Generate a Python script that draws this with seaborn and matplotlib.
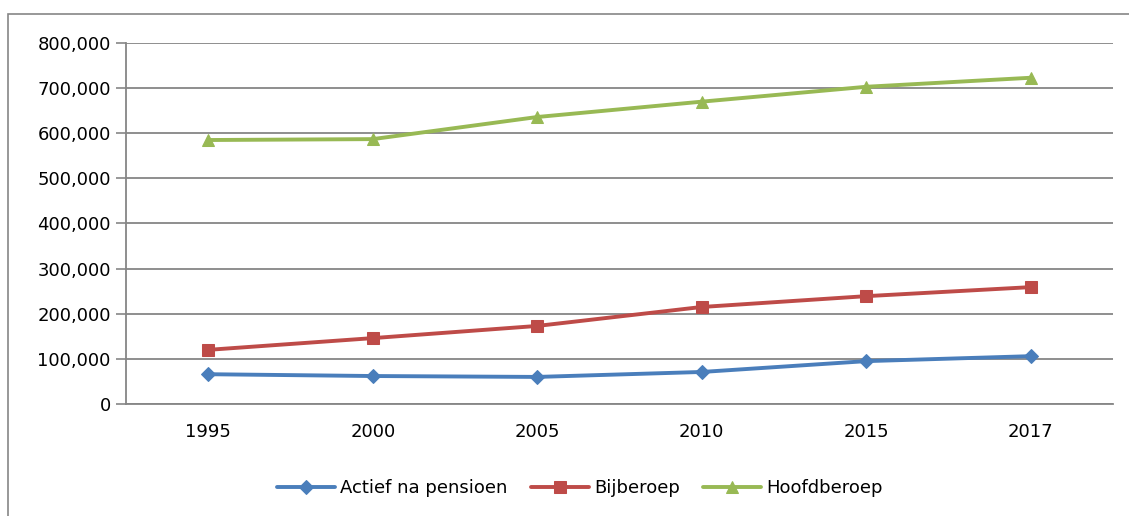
import matplotlib
matplotlib.use("Agg")
import matplotlib.pyplot as plt
import matplotlib.ticker as mticker
from matplotlib.patches import Rectangle
import seaborn as sns
import pandas as pd

years = ["1995", "2000", "2005", "2010", "2015", "2017"]
actief_na_pensioen = [66000, 62000, 60000, 71000, 95000, 106000]
bijberoep = [120000, 146000, 173000, 215000, 239000, 259000]
hoofdberoep = [585000, 587000, 636000, 670000, 703000, 723000]

series_names = ["Actief na pensioen", "Bijberoep", "Hoofdberoep"]
series_values = [actief_na_pensioen, bijberoep, hoofdberoep]
colors = ["#4A7EBB", "#BE4B48", "#98B954"]
markers = ["D", "s", "^"]
msizes = [7, 8, 8]

sns.set_theme(style="white")
plt.rcParams["font.family"] = ["DejaVu Sans"]
plt.rcParams["text.color"] = "black"

fig = plt.figure(figsize=(11.29, 5.16), dpi=100)
ax = fig.add_axes([126/1129, 1-404/516, (1113-126)/1129, (404-43)/516])

rows = []
for name, vals in zip(series_names, series_values):
    for i, v in enumerate(vals):
        rows.append({"pos": i, "value": v, "series": name})
df = pd.DataFrame(rows)

for name, c, m, ms in zip(series_names, colors, markers, msizes):
    sub = df[df["series"] == name]
    sns.lineplot(data=sub, x="pos", y="value", ax=ax, color=c, marker=m,
                 markersize=ms, markeredgecolor=c, linewidth=2.8, label=name)

ax.set_xlim(-0.5, len(years) - 0.5)
ax.set_ylim(0, 800000)
ax.yaxis.set_major_locator(mticker.MultipleLocator(100000))
ax.yaxis.set_major_formatter(mticker.FuncFormatter(lambda v, p: f"{int(v):,}"))
ax.set_xticks(range(len(years)))
ax.set_xticklabels(years)
ax.set_xticks([i - 0.5 for i in range(len(years) + 1)], minor=True)
ax.tick_params(axis="x", which="major", length=0, pad=14, labelsize=13, labelcolor="black")
ax.tick_params(axis="x", which="minor", length=7, width=1.2, color="#868686", direction="out")
ax.tick_params(axis="y", which="major", length=7, width=1.2, color="#868686", direction="out",
               labelsize=13, pad=4, labelcolor="black")
ax.tick_params(axis="both", bottom=True, left=True)
ax.set_xlabel("")
ax.set_ylabel("")
ax.grid(axis="y", color="#868686", linewidth=1.3)
ax.set_axisbelow(True)
for s in ["top", "right"]:
    ax.spines[s].set_visible(False)
for s in ["left", "bottom"]:
    ax.spines[s].set_color("#868686")
    ax.spines[s].set_linewidth(1.3)

handles, labels = ax.get_legend_handles_labels()
leg = ax.legend(handles, labels, loc="center", bbox_to_anchor=(580/1129, 1-488/516),
                bbox_transform=fig.transFigure, ncol=3, frameon=False, fontsize=13,
                handlelength=3.2, columnspacing=1.3, handletextpad=0.3)
for t in leg.get_texts():
    t.set_color("black")

fig.patches.append(Rectangle((8/1129, -0.1), 1.2, (1-14/516) + 0.1, transform=fig.transFigure,
                             fill=False, edgecolor="#868686", linewidth=1.2))

fig.savefig("out.png", dpi=100)
